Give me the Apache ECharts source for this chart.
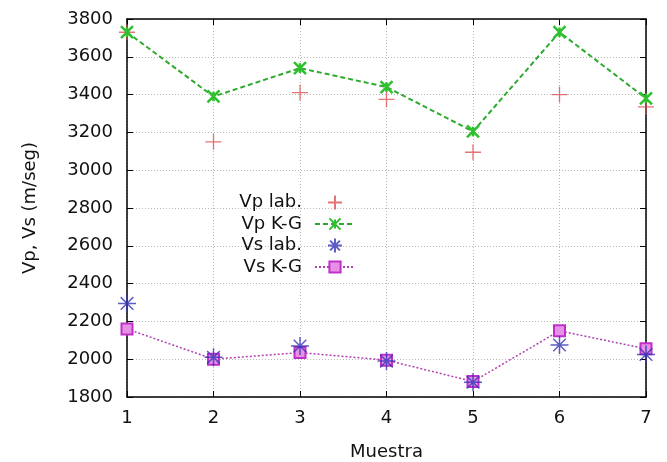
<!DOCTYPE html>
<html>
<head>
<meta charset="utf-8">
<script src="https://cdn.jsdelivr.net/npm/echarts@6/dist/echarts.min.js"></script>
<style>
html,body{margin:0;padding:0;background:#fff;}
#c{width:667px;height:462px;}
</style>
</head>
<body>
<div id="c"></div>
<script>
const muestras = [1, 2, 3, 4, 5, 6, 7];
const vpLab = [3730, 3150, 3410, 3375, 3095, 3400, 3335];
const vpKG  = [3730, 3390, 3540, 3440, 3205, 3730, 3380];
const vsLab = [2295, 2010, 2070, 1990, 1878, 2075, 2025];
const vsKG  = [2160, 2000, 2035, 1995, 1882, 2150, 2055];
const yTicks = [1800, 2000, 2200, 2400, 2600, 2800, 3000, 3200, 3400, 3600, 3800];

const pair = (arr) => muestras.map((m, i) => [m, arr[i]]);
const FONT = 'DejaVu Sans';
const plusPath = 'path://M0,5L10,5M5,0L5,10';
const xPath = 'path://M0,0L10,10M10,0L0,10M5,1L5,9';
const starPath = 'path://M0,5L10,5M5,0L5,10M1.5,1.5L8.5,8.5M8.5,1.5L1.5,8.5';

const gridLine = {show: true, lineStyle: {color: '#b8b8b8', type: [1, 2], width: 1}};
const axisLine = {show: true, lineStyle: {color: '#000', width: 1.5}};

const chart = echarts.init(document.getElementById('c'), null, {renderer: 'canvas'});
chart.setOption({
  animation: false,
  backgroundColor: '#fff',
  textStyle: {fontFamily: FONT},
  grid: {left: 127, right: 21, top: 19, bottom: 65, outerBoundsMode: 'none', containLabel: false},
  legend: {
    orient: 'vertical',
    right: 306,
    top: 188,
    align: 'right',
    itemWidth: 40,
    itemHeight: 14,
    itemGap: 3,
    textStyle: {fontFamily: FONT, fontSize: 18, color: '#111', padding: [0, 8, 0, 0]},
    data: ['Vp lab.', 'Vp K-G', 'Vs lab.', 'Vs K-G']
  },
  xAxis: [{
    type: 'value', min: 1, max: 7, interval: 1,
    name: 'Muestra', nameLocation: 'middle', nameGap: 46,
    nameTextStyle: {fontFamily: FONT, fontSize: 18, color: '#111'},
    axisLine: axisLine,
    axisTick: {show: true, inside: true, length: 6, lineStyle: {color: '#000'}},
    axisLabel: {fontFamily: FONT, fontSize: 18, color: '#111', margin: 12},
    splitLine: gridLine
  }, {
    type: 'value', min: 1, max: 7, interval: 1, position: 'top',
    axisLine: axisLine,
    axisTick: {show: true, inside: true, length: 6, lineStyle: {color: '#000'}},
    axisLabel: {show: false}, splitLine: {show: false}
  }],
  yAxis: [{
    type: 'value', min: yTicks[0], max: yTicks[yTicks.length - 1], interval: 200,
    name: 'Vp, Vs (m/seg)', nameLocation: 'middle', nameGap: 88,
    nameTextStyle: {fontFamily: FONT, fontSize: 18, color: '#111'},
    axisLine: axisLine,
    axisTick: {show: true, inside: true, length: 6, lineStyle: {color: '#000'}},
    axisLabel: {fontFamily: FONT, fontSize: 18, color: '#111', margin: 14, formatter: (v) => String(v)},
    splitLine: gridLine
  }, {
    type: 'value', min: yTicks[0], max: yTicks[yTicks.length - 1], interval: 200, position: 'right',
    axisLine: axisLine,
    axisTick: {show: true, inside: true, length: 6, lineStyle: {color: '#000'}},
    axisLabel: {show: false}, splitLine: {show: false}
  }],
  series: [{
    name: 'Vp lab.', type: 'scatter', data: pair(vpLab),
    symbol: plusPath, symbolSize: 16,
    itemStyle: {color: 'none', borderColor: '#e05050', borderWidth: 1.3},
    z: 3
  }, {
    name: 'Vp K-G', type: 'line', data: pair(vpKG),
    symbol: xPath, symbolSize: 12, showSymbol: true,
    lineStyle: {color: '#2faa2f', width: 2, type: [5, 3]},
    itemStyle: {color: 'none', borderColor: '#2fc02f', borderWidth: 2.5},
    z: 4
  }, {
    name: 'Vs lab.', type: 'scatter', data: pair(vsLab),
    symbol: starPath, symbolSize: 18,
    itemStyle: {color: 'none', borderColor: '#3434b8', borderWidth: 1.5},
    z: 5
  }, {
    name: 'Vs K-G', type: 'line', data: pair(vsKG),
    symbol: 'rect', symbolSize: 11, showSymbol: true,
    lineStyle: {color: '#b040b0', width: 1.5, type: [2, 2]},
    itemStyle: {color: '#e690e6', borderColor: '#c030c8', borderWidth: 2},
    z: 4
  }]
});
</script>
</body>
</html>
